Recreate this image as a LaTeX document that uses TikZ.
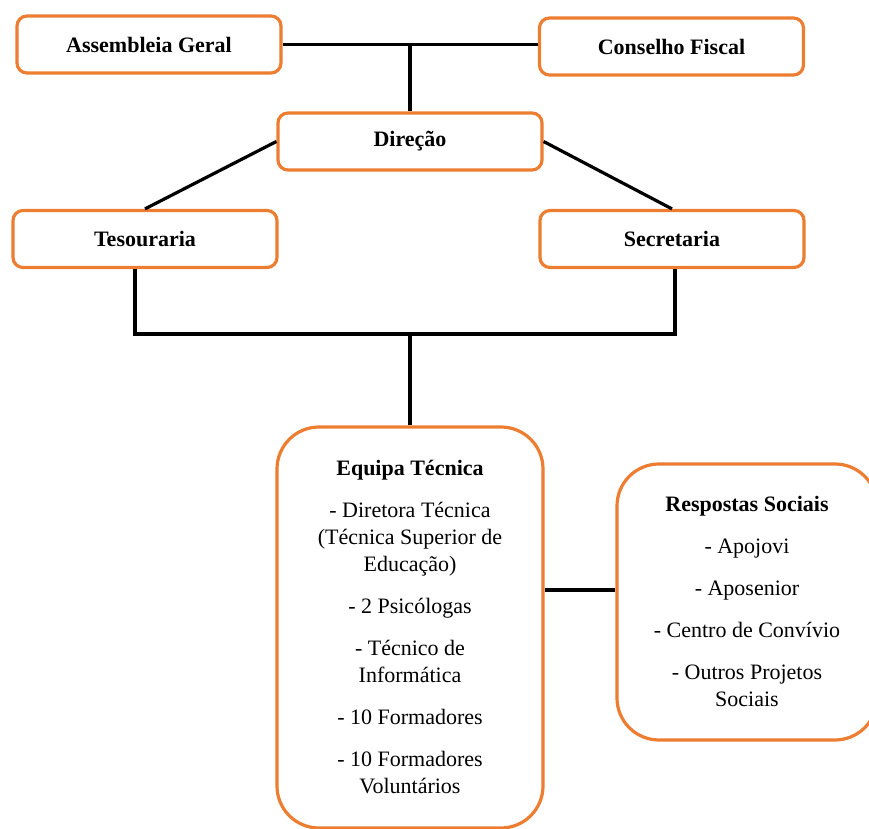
\documentclass[tikz,border=0pt]{standalone}
\usepackage{fontspec}
\setmainfont{Liberation Serif}
\newfontfamily\tnr{Liberation Serif}
\definecolor{boxorange}{HTML}{ED7D31}
\tikzset{
  smallbox/.style={draw=boxorange, line width=1.6pt, rounded corners=5pt, minimum width=132pt, minimum height=28.5pt, inner sep=0pt, font=\tnr\fontsize{11}{13.5}\selectfont\bfseries},
  bigbox/.style={draw=boxorange, line width=1.6pt, rounded corners=21pt, inner sep=0pt},
  listtext/.style={align=center, inner sep=0pt, anchor=north, font=\tnr\fontsize{11}{13.5}\selectfont},
  conn/.style={draw=black, line width=1.6pt}
}
\begin{document}
\begin{tikzpicture}[x=0.5pt,y=-0.5pt]
\useasboundingbox (0,0) rectangle (869,829);
\node[smallbox] (ag) at (149,44.5) {Assembleia Geral};
\node[smallbox] (cf) at (671.5,46.5) {Conselho Fiscal};
\node[smallbox] (dir) at (410,141.5) {Direção};
\node[smallbox] (tes) at (145,239) {Tesouraria};
\node[smallbox] (sec) at (672,239) {Secretaria};
\node[bigbox, minimum width=133pt, minimum height=200.5pt] (eq) at (410,627.5) {};
\node[bigbox, minimum width=130pt, minimum height=138pt] (rs) at (747,602) {};
\node[listtext] (eqt) at (410,460) {\textbf{Equipa Técnica}\\[7.5pt]
- Diretora Técnica\\(Técnica Superior de\\Educação)\\[7.5pt]
- 2 Psicólogas\\[7.5pt]
- Técnico de\\Informática\\[7.5pt]
- 10 Formadores\\[7.5pt]
- 10 Formadores\\Voluntários};
\node[listtext] (rst) at (747,496) {\textbf{Respostas Sociais}\\[7.5pt]
- Apojovi\\[7.5pt]
- Aposenior\\[7.5pt]
- Centro de Convívio\\[7.5pt]
- Outros Projetos\\Sociais};
\coordinate (jl) at (135,334);
\coordinate (jr) at (675,334);
\coordinate (hm) at (580,590);
\draw[conn] (ag.east) -- (ag.east -| cf.west);
\draw[conn] (dir.north) -- (dir.north |- ag.east);
\draw[conn] (dir.west) -- (tes.north);
\draw[conn] (dir.east) -- (sec.north);
\draw[conn] (tes.south -| jl) -- (jl) -- (jr) -- (sec.south -| jr);
\draw[conn] (eq.north) -- (eq.north |- jl);
\draw[conn] (hm -| eq.east) -- (hm -| rs.west);
\end{tikzpicture}
\end{document}
